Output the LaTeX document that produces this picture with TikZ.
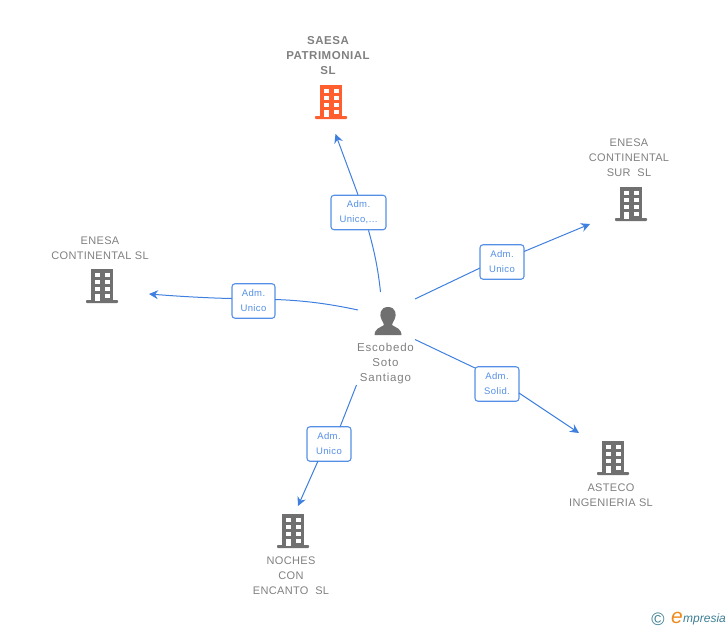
\documentclass[tikz,border=0pt]{standalone}
\usepackage{fontspec}
\setmainfont{Liberation Sans}
\newfontfamily\logofont{Liberation Sans}
\usetikzlibrary{arrows.meta}
\definecolor{linkblue}{HTML}{3F80DE}
\definecolor{boxblue}{HTML}{5590E6}
\definecolor{txtgray}{HTML}{808080}
\definecolor{icongray}{HTML}{707070}
\definecolor{iconorange}{HTML}{FF5F2E}
\definecolor{logoteal}{HTML}{3C7E93}
\definecolor{logoorange}{HTML}{EE8A1E}
\tikzset{
  x=1pt,y=-1pt,
  lbl/.style={font=\fontsize{11}{15}\selectfont\addfontfeatures{LetterSpace=3},text=txtgray,align=center,inner sep=0pt},
  lblb/.style={font=\fontsize{11.5}{15}\selectfont\bfseries\addfontfeatures{LetterSpace=4.5},text=txtgray,align=center,inner sep=0pt},
  lblp/.style={font=\fontsize{11.5}{15}\selectfont\addfontfeatures{LetterSpace=7},text=txtgray,align=center,inner sep=0pt},
  tagbox/.style={draw=boxblue,line width=1.1pt,rounded corners=3pt,fill=white,font=\fontsize{9.5}{15}\selectfont\addfontfeatures{LetterSpace=4},text=boxblue,align=center,inner sep=0pt,minimum height=34.5pt},
  link/.style={draw=linkblue,line width=1pt},
  linkarrow/.style={link,-{Stealth[length=9pt,width=9pt,inset=3pt]}},
  pics/bldg/.style={code={
    \fill[#1] (-11,-16) rectangle (11,16);
    \fill[#1,rounded corners=0.8pt] (-16,15) rectangle (16,18);
    \foreach \c in {-7.5,2.5}{\foreach \r in {-12.5,-5.5,1.5}{\fill[white] (\c,\r) rectangle +(5,4.8);}}
    \fill[white] (2.5,8.5) rectangle +(5,4.8);
    \fill[white] (-7.5,8.5) rectangle (-2.5,16);
  }}
}
\begin{document}
\begin{tikzpicture}
\useasboundingbox (0,0) rectangle (728,630);
% buildings
\path (331,101) pic {bldg=iconorange};
\path (631,203) pic {bldg=icongray};
\path (102,285) pic {bldg=icongray};
\path (613,457) pic {bldg=icongray};
\path (293,530) pic {bldg=icongray};
% person
\fill[icongray] (388,307) .. controls (380,307) and (379,315) .. (381.5,319.5) .. controls (382.5,322) and (384,323) .. (384,325) .. controls (380,328) and (375,328) .. (374.5,335) -- (401.5,335) .. controls (401,328) and (396,328) .. (392,325) .. controls (392,323) and (393.5,322) .. (394.5,319.5) .. controls (397,315) and (396,307) .. (388,307) -- cycle;
% labels
\node[lblb] (saesa) at (328,56) {SAESA\\PATRIMONIAL\\SL};
\node[lbl] (sur) at (629,157.5) {ENESA\\CONTINENTAL\\SUR\ \ SL};
\node[lbl] (cont) at (100,248) {ENESA\\CONTINENTAL SL};
\node[lbl] (asteco) at (611,495) {ASTECO\\INGENIERIA SL};
\node[lbl] (noches) at (291,575.5) {NOCHES\\CON\\ENCANTO\ \ SL};
\node[lblp] (person) at (385.5,364) {Escobedo\\Soto\\Santiago};
% link boxes
\node[tagbox,minimum width=55pt] (t1) at (358.5,212.5) {Adm.\\Unico,...};
\node[tagbox,minimum width=44pt] (t2) at (502,262) {Adm.\\Unico};
\node[tagbox,minimum width=43pt] (t3) at (253.5,301) {Adm.\\Unico};
\node[tagbox,minimum width=44pt] (t4) at (497,384) {Adm.\\Solid.};
\node[tagbox,minimum width=44pt] (t5) at (329,444) {Adm.\\Unico};
% free ends
\coordinate (s1) at (380.5,292);
\coordinate (e1) at (335.5,134);
\coordinate (s2) at (415,299);
\coordinate (e2) at (590,224);
\coordinate (s3) at (358,310);
\coordinate (e3) at (149,294);
\coordinate (s4) at (415,339.5);
\coordinate (e4) at (579,433);
\coordinate (s5) at (356.5,385);
\coordinate (e5) at (298,506);
% connectors
\draw[link] (s1) .. controls (378,268) and (374,250) .. (t1.south -| 368.5,0);
\draw[linkarrow] (t1.north -| 358,0) -- (e1);
\draw[link] (s2) -- (480,268);
\draw[linkarrow] (524,251.5) -- (e2);
\draw[link] (s3) .. controls (330,304) and (305,300.5) .. (275,299.5);
\draw[linkarrow] (232,298.5) .. controls (205,298) and (175,296) .. (e3);
\draw[link] (s4) -- (475,368);
\draw[linkarrow] (519,393) -- (e4);
\draw[link] (s5) -- (340,427);
\draw[linkarrow] (318,461) -- (e5);
% logo
\node[font=\fontsize{18}{18}\selectfont\logofont,text=logoteal,inner sep=0pt] (copy) at (658,619) {©};
\node[font=\fontsize{21}{21}\selectfont\itshape,text=logoorange,inner sep=0pt] (elogo) at (677,618) {e};
\node[font=\fontsize{12}{12}\selectfont\logofont\itshape,text=logoteal,inner sep=0pt,anchor=west] (mlogo) at (683,619.5) {mpresia};
\end{tikzpicture}
\end{document}
